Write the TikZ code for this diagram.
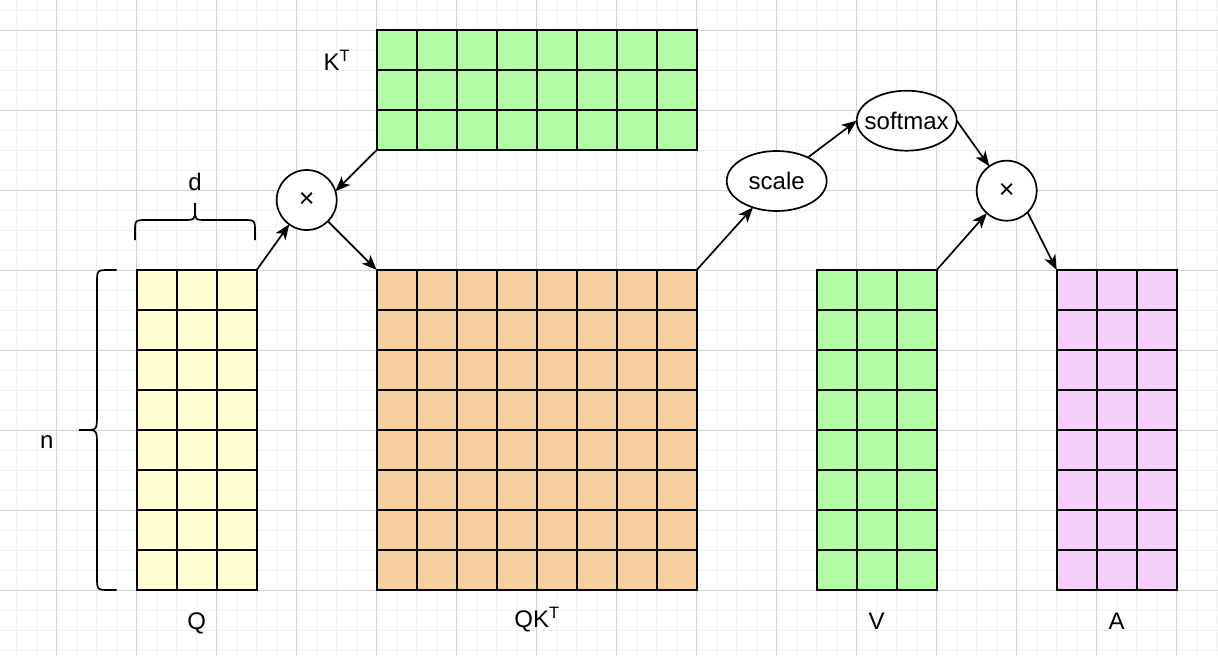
\documentclass[tikz,border=0pt]{standalone}
\usepackage{fontspec}
\setmainfont{Liberation Sans}
\usetikzlibrary{arrows.meta,shapes.geometric}
\definecolor{qcol}{HTML}{FFFFD3}
\definecolor{gcol}{HTML}{B2FCA4}
\definecolor{ocol}{HTML}{F7CF9F}
\definecolor{pcol}{HTML}{F4CFFA}
\definecolor{minorgrid}{HTML}{F1F1F1}
\definecolor{majorgrid}{HTML}{D4D4D4}
\newcommand\mysupT{\raisebox{9pt}{\fontsize{16.5}{16}\selectfont T}}
\newcommand\drawmat[6]{%
  \node[matbox, fill=#6, minimum width=#4*40pt, minimum height=#5*40pt] (#1) at (#2,#3) {};
  \pgfmathtruncatemacro\mymatcols{#4-1}
  \pgfmathtruncatemacro\mymatrows{#5-1}
  \foreach \i in {1,...,\mymatcols} \draw[cellline] ([xshift=\i*40pt]#1.north west) -- ([xshift=\i*40pt]#1.south west);
  \foreach \j in {1,...,\mymatrows} \draw[cellline] ([yshift=-\j*40pt]#1.north west) -- ([yshift=-\j*40pt]#1.north east);
}
\begin{document}
\begin{tikzpicture}[x=1pt,y=-1pt,
  every node/.style={font=\fontsize{24}{28}\selectfont},
  matbox/.style={draw=black, line width=1.9pt, anchor=north west, inner sep=0pt, outer sep=0pt},
  cellline/.style={draw=black, line width=1.9pt},
  opc/.style={circle, draw=black, fill=white, line width=1.7pt, minimum size=60pt, inner sep=0pt, outer sep=0pt, font=\fontsize{27}{28}\selectfont},
  opell/.style={ellipse, draw=black, fill=white, line width=1.7pt, minimum width=100pt, minimum height=60pt, inner sep=0pt, outer sep=0pt},
  lbl/.style={anchor=base, inner sep=0pt},
  arr/.style={-{Stealth[length=15pt,width=12pt,inset=4pt]}, line width=1.7pt, draw=black},
  bracestyle/.style={draw=black, line width=1.7pt},
  mgrid/.style={draw=minorgrid, line width=1pt},
  Mgrid/.style={draw=majorgrid, line width=1pt}]
\useasboundingbox (0,0) rectangle (1218,656);
\fill[white] (0,0) rectangle (1218,656);
% grid
\foreach \k in {0,...,60} \draw[mgrid] ({16.7+20*\k},0) -- ({16.7+20*\k},656);
\foreach \k in {0,...,32} \draw[mgrid] (0,{10+20*\k}) -- (1218,{10+20*\k});
\foreach \k in {0,...,14} \draw[Mgrid] ({56.7+80*\k},0) -- ({56.7+80*\k},656);
\foreach \k in {0,...,7} \draw[Mgrid] (0,{30+80*\k}) -- (1218,{30+80*\k});
% matrices
\drawmat{Q}{136.7}{270}{3}{8}{qcol}
\drawmat{KT}{376.7}{30}{8}{3}{gcol}
\drawmat{QKT}{376.7}{270}{8}{8}{ocol}
\drawmat{V}{816.7}{270}{3}{8}{gcol}
\drawmat{A}{1056.7}{270}{3}{8}{pcol}
% operators
\node[opc] (x1) at (306.7,200) {×};
\node[opc] (x2) at (1006.7,190.7) {×};
\node[opell] (scale) at (776.7,181) {\makebox[0pt]{scale}};
\node[opell] (softmax) at (906.7,120.7) {\makebox[0pt]{softmax}};
% labels
\node[lbl] (ktlab) at (336.7,70.7) {K\mysupT};
\node[lbl] (qlab) at (196.7,629) {Q};
\node[lbl] (qktlab) at (536.7,627) {QK\mysupT};
\node[lbl] (vlab) at (876.7,629) {V};
\node[lbl] (alab) at (1116.7,629) {A};
\node[lbl] (dlab) at (195,190) {d};
\node[lbl] (nlab) at (46.7,448.3) {n};
% braces
\draw[bracestyle] (135,240) -- (135,232) .. controls (135,220) .. (147,220) -- (183,220)
  .. controls (195,220) .. (195,209) -- (195,203) -- (195,209)
  .. controls (195,220) .. (207,220) -- (243,220) .. controls (255,220) .. (255,232) -- (255,240);
\draw[bracestyle] (116.7,270) -- (110,270) .. controls (97,270) .. (97,283) -- (97,414)
  .. controls (97,430) .. (85,430) -- (79,430) -- (85,430)
  .. controls (97,430) .. (97,446) -- (97,577) .. controls (97,590) .. (110,590) -- (116.7,590);
% connectors
\draw[arr] (Q.north east) -- (x1);
\draw[arr] (KT.south west) -- (x1.17);
\draw[arr] (x1) -- (QKT.north west);
\draw[arr] (QKT.north east) -- (scale);
\draw[arr] (scale) -- (softmax.west);
\draw[arr] (softmax.east) -- (x2);
\draw[arr] (V.north east) -- (x2);
\draw[arr] (x2.-46) -- (A.north west);
\end{tikzpicture}
\end{document}
